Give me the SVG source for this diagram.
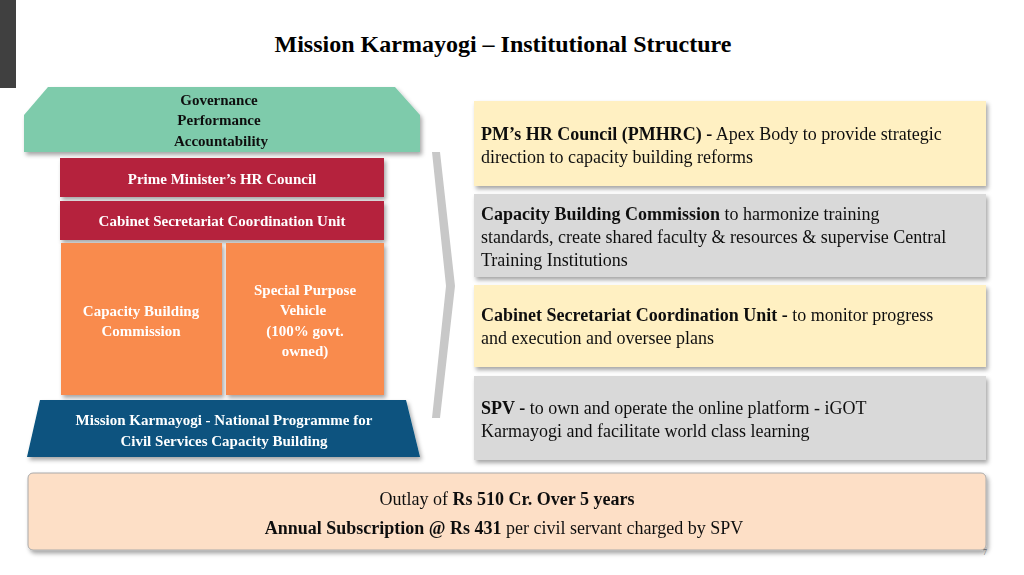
<svg xmlns="http://www.w3.org/2000/svg" width="1024" height="575" viewBox="0 0 1024 575">
<defs>
<filter id="sh" x="-5%" y="-5%" width="112%" height="125%"><feDropShadow dx="2" dy="3" stdDeviation="2" flood-color="#000" flood-opacity="0.35"/></filter>
<style>
.t{font-family:"Liberation Serif",serif;}
.w{fill:#fff;font-weight:bold;font-size:15px;text-anchor:middle;font-family:"Liberation Serif",serif;}
.r{font-family:"Liberation Serif",serif;font-size:18px;fill:#111;}
</style>
</defs>
<rect width="1024" height="575" fill="#fff"/>
<rect x="0" y="0" width="16" height="88" fill="#404040"/>
<text class="t" x="503" y="52" font-size="24" font-weight="bold" text-anchor="middle">Mission Karmayogi – Institutional Structure</text>
<g id="arrow"><polygon points="432,152 440,152 455,286 440,418 432,418 446,286" fill="#c8c8c8"/></g>
<g id="governance" filter="url(#sh)"><polygon points="48,87 395,87 420,115 420,152 24,152 24,115" fill="#7ecbab"/>
<text class="t" font-size="15" font-weight="bold" text-anchor="middle" fill="#111"><tspan x="219" y="105">Governance</tspan><tspan x="219" y="125">Performance</tspan><tspan x="221" y="146">Accountability</tspan></text></g>
<g id="pmhrc" filter="url(#sh)"><rect x="60" y="158" width="324" height="39" fill="#b5233e"/><text class="w" x="222" y="184">Prime Minister’s HR Council</text></g>
<g id="cscu" filter="url(#sh)"><rect x="60" y="201" width="324" height="39" fill="#b5233e"/><text class="w" x="222" y="226">Cabinet Secretariat Coordination Unit</text></g>
<g id="cbc" filter="url(#sh)"><rect x="61" y="243" width="161" height="152" fill="#f98b4e"/><text class="w"><tspan x="141" y="316">Capacity Building</tspan><tspan x="141" y="336">Commission</tspan></text></g>
<g id="spv" filter="url(#sh)"><rect x="226" y="243" width="158" height="152" fill="#f98b4e"/><text class="w"><tspan x="305" y="295">Special Purpose</tspan><tspan x="303" y="315">Vehicle</tspan><tspan x="305" y="336">(100% govt.</tspan><tspan x="305" y="356">owned)</tspan></text></g>
<g id="base" filter="url(#sh)"><polygon points="40,400 406,400 420,457 27,457" fill="#07527f"/><text class="w"><tspan x="224" y="425">Mission Karmayogi - National Programme for</tspan><tspan x="224" y="446">Civil Services Capacity Building</tspan></text></g>
<g id="r1" filter="url(#sh)"><rect x="474" y="101" width="512" height="85" fill="#fff0c2"/><text class="r"><tspan x="481" y="140"><tspan font-weight="bold">PM’s HR Council (PMHRC) -</tspan> Apex Body to provide strategic</tspan><tspan x="481" y="163">direction to capacity building reforms</tspan></text></g>
<g id="r2" filter="url(#sh)"><rect x="474" y="194" width="512" height="83" fill="#d9d9d9"/><text class="r"><tspan x="481" y="220"><tspan font-weight="bold">Capacity Building Commission</tspan> to harmonize training</tspan><tspan x="481" y="243">standards, create shared faculty &amp; resources &amp; supervise Central</tspan><tspan x="481" y="266">Training Institutions</tspan></text></g>
<g id="r3" filter="url(#sh)"><rect x="474" y="285" width="512" height="82" fill="#fff0c2"/><text class="r"><tspan x="481" y="321"><tspan font-weight="bold">Cabinet Secretariat Coordination Unit -</tspan> to monitor progress</tspan><tspan x="481" y="344">and execution and oversee plans</tspan></text></g>
<g id="r4" filter="url(#sh)"><rect x="474" y="376" width="512" height="84" fill="#d9d9d9"/><text class="r"><tspan x="481" y="414"><tspan font-weight="bold">SPV -</tspan> to own and operate the online platform - iGOT</tspan><tspan x="481" y="437">Karmayogi and facilitate world class learning</tspan></text></g>
<g id="outlay" filter="url(#sh)"><rect x="28" y="473" width="958" height="77" rx="5" fill="#fddfc6" stroke="#aaa" stroke-width="1"/>
<text class="r" text-anchor="middle"><tspan x="507" y="505">Outlay of <tspan font-weight="bold">Rs 510 Cr. Over 5 years</tspan></tspan><tspan x="504" y="534"><tspan font-weight="bold">Annual Subscription @ Rs 431</tspan> per civil servant charged by SPV</tspan></text></g>
<text class="t" x="985" y="555" font-size="8" fill="#666" text-anchor="middle">7</text>
</svg>
